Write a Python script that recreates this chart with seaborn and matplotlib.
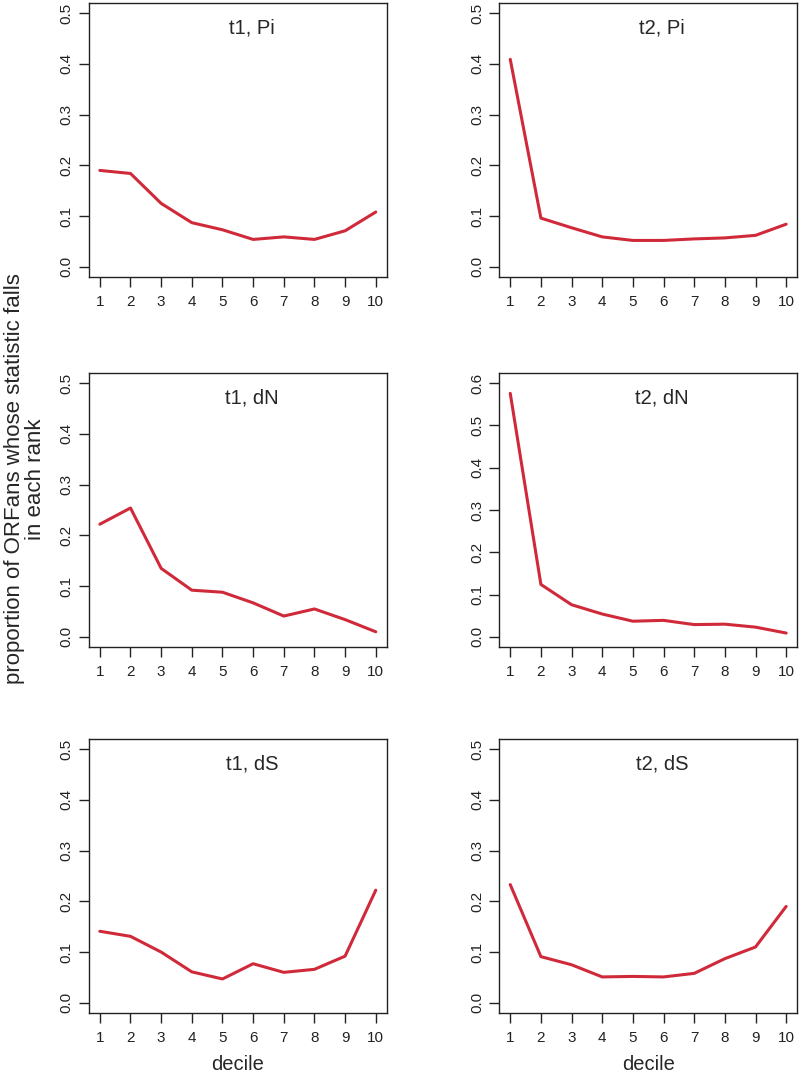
import numpy as np
import pandas as pd
import matplotlib
matplotlib.use("Agg")
import matplotlib.pyplot as plt
import seaborn as sns

deciles = list(range(1, 11))

t1_pi = [0.190, 0.184, 0.125, 0.087, 0.073, 0.054, 0.059, 0.054, 0.071, 0.108]
t2_pi = [0.409, 0.096, 0.077, 0.059, 0.052, 0.052, 0.055, 0.057, 0.062, 0.084]
t1_dn = [0.222, 0.254, 0.135, 0.092, 0.088, 0.067, 0.041, 0.055, 0.034, 0.010]
t2_dn = [0.576, 0.124, 0.076, 0.054, 0.037, 0.039, 0.029, 0.030, 0.023, 0.009]
t1_ds = [0.141, 0.131, 0.100, 0.061, 0.047, 0.077, 0.060, 0.066, 0.092, 0.222]
t2_ds = [0.233, 0.091, 0.075, 0.051, 0.052, 0.051, 0.058, 0.087, 0.110, 0.190]

panels = [
    ("t1, Pi", t1_pi, 0.5), ("t2, Pi", t2_pi, 0.5),
    ("t1, dN", t1_dn, 0.5), ("t2, dN", t2_dn, 0.6),
    ("t1, dS", t1_ds, 0.5), ("t2, dS", t2_ds, 0.5),
]

sns.set_theme(style="ticks")
plt.rcParams["font.family"] = ["Liberation Sans", "DejaVu Sans"]

line_color = "#D02A3A"

fig = plt.figure(figsize=(8, 10.76), dpi=100)

col_left = [0.111, 0.624]
row_bottom = [0.7426, 0.3987, 0.0586]
w, h = 0.3725, 0.2546

for i, (title, vals, ymax) in enumerate(panels):
    r, c = divmod(i, 2)
    ax = fig.add_axes([col_left[c], row_bottom[r], w, h])
    df = pd.DataFrame({"decile": deciles, "prop": vals})
    sns.lineplot(data=df, x="decile", y="prop", ax=ax, color=line_color, linewidth=2.2)

    pad_y = ymax * 0.04
    ax.set_ylim(-pad_y, ymax + pad_y)
    ax.set_xlim(1 - 0.36, 10 + 0.36)
    ax.set_xticks(deciles)
    yt = np.round(np.arange(0, ymax + 0.001, 0.1), 1)
    ax.set_yticks(yt)
    ax.set_yticklabels([f"{v:.1f}" for v in yt], rotation=90, va="center")
    ax.tick_params(axis="both", direction="out", length=7, width=1.0,
                   labelsize=11, colors="#222222")
    ax.tick_params(axis="x", pad=6)
    ax.tick_params(axis="y", pad=4)
    for s in ax.spines.values():
        s.set_visible(True)
        s.set_linewidth(1.0)
        s.set_color("#222222")
    ax.set_xlabel("decile" if r == 2 else "", fontsize=14.5, labelpad=7)
    ax.set_ylabel("")
    ax.text(0.547, 0.909, title, transform=ax.transAxes, ha="center",
            va="center", fontsize=14.5)

fig.text(0.031, 0.555, "proportion of ORFans whose statistic falls\nin each rank",
         rotation=90, ha="center", va="center", fontsize=16, linespacing=1.0)

fig.savefig("out.png", dpi=100, facecolor="white")
